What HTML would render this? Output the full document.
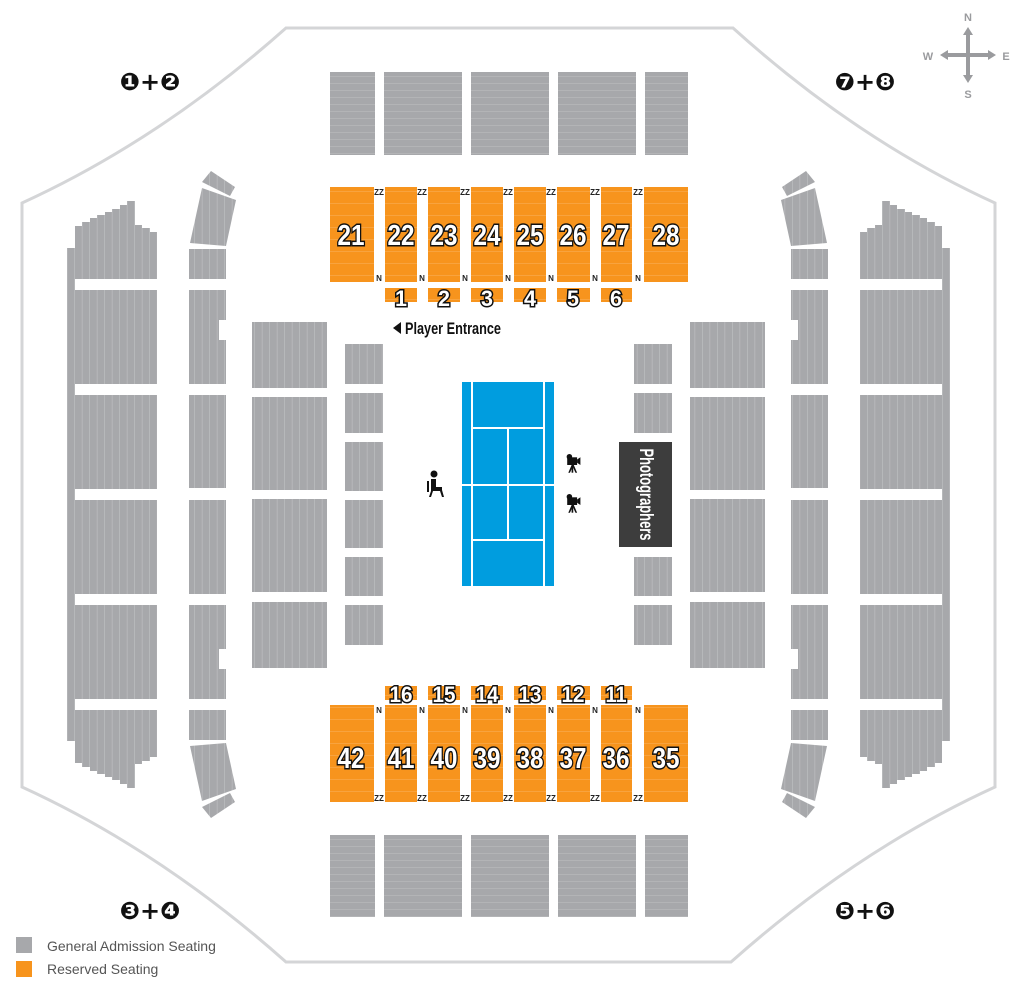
<!DOCTYPE html>
<html><head><meta charset="utf-8"><style>
html,body{margin:0;padding:0;background:#fff;}
svg{display:block;}
.num{font-family:"Liberation Sans",sans-serif;font-weight:bold;font-size:29px;fill:#fff;stroke:#111;stroke-width:3px;paint-order:stroke;text-anchor:middle;}
.s2{font-size:22px;}
.sm{font-family:"Liberation Sans",sans-serif;font-weight:bold;font-size:8px;fill:#222;text-anchor:middle;}
</style></head><body>
<svg width="1024" height="985" viewBox="0 0 1024 985" xmlns="http://www.w3.org/2000/svg">
<defs>
<pattern id="vs" patternUnits="userSpaceOnUse" width="7.5" height="10"><rect width="7.5" height="10" fill="#a7a8ab"/><rect x="6.8" width="0.8" height="10" fill="#bdbec0"/></pattern>
<pattern id="hs" patternUnits="userSpaceOnUse" width="10" height="7"><rect width="10" height="7" fill="#a7a8ab"/><rect y="6.3" width="10" height="0.7" fill="#b8b9bb"/></pattern>
<pattern id="os" patternUnits="userSpaceOnUse" width="10" height="12"><rect width="10" height="12" fill="#f7941d"/><rect y="11.2" width="10" height="0.8" fill="#f9a746"/></pattern>
<g id="side">
<polygon fill="url(#vs)" points="67,248 75,248 75,226 82,226 82,222 90,222 90,218 97,218 97,215 105,215 105,212 112,212 112,209 120,209 120,205 127,205 127,201 135,201 135,225 142,225 142,228 150,228 150,232 157,232 157,757 150,757 150,761 142,761 142,764 135,764 135,788 127,788 127,784 120,784 120,780 112,780 112,777 105,777 105,774 97,774 97,771 90,771 90,767 82,767 82,763 75,763 75,741 67,741"/>
<g fill="#fff"><rect x="75" y="279" width="83" height="11"/><rect x="75" y="384" width="83" height="11"/><rect x="75" y="489" width="83" height="11"/><rect x="75" y="594" width="83" height="11"/><rect x="75" y="699" width="83" height="11"/></g>
<g fill="url(#vs)">
<rect x="189" y="249" width="37" height="30"/>
<polygon points="189,290 226,290 226,320 219,320 219,340 226,340 226,384 189,384"/>
<rect x="189" y="395" width="37" height="93"/>
<rect x="189" y="500" width="37" height="94"/>
<polygon points="189,605 226,605 226,649 219,649 219,669 226,669 226,699 189,699"/>
<rect x="189" y="710" width="37" height="30"/>
<polygon points="190,243 202,188 236,200 226,246"/>
<polygon points="202,182 211,171 235,187 230,196"/>
<polygon points="190,746 202,801 236,789 226,743"/>
<polygon points="202,807 211,818 235,802 230,793"/>
<rect x="252" y="322" width="75" height="66"/><rect x="252" y="397" width="75" height="93"/><rect x="252" y="499" width="75" height="93"/><rect x="252" y="602" width="75" height="66"/>
</g>
</g>
</defs>
<path d="M22,203 L22,787 Q160,850 286,962 L731,962 Q857,850 995,787 L995,203 Q857,140 733,28 L286,28 Q160,140 22,203 Z" fill="none" stroke="#d4d5d7" stroke-width="3"/>
<use href="#side"/>
<use href="#side" transform="matrix(-1 0 0 1 1017 0)"/>
<g fill="url(#vs)">
<rect x="345" y="344" width="38" height="40"/><rect x="345" y="393" width="38" height="40"/><rect x="345" y="442" width="38" height="49"/><rect x="345" y="500" width="38" height="48"/><rect x="345" y="557" width="38" height="39"/><rect x="345" y="605" width="38" height="40"/>
<rect x="634" y="344" width="38" height="40"/><rect x="634" y="393" width="38" height="40"/><rect x="634" y="557" width="38" height="39"/><rect x="634" y="605" width="38" height="40"/>
</g>
<g fill="url(#hs)">
<rect x="330" y="72" width="45" height="83"/><rect x="384" y="72" width="78" height="83"/><rect x="471" y="72" width="78" height="83"/><rect x="558" y="72" width="78" height="83"/><rect x="645" y="72" width="43" height="83"/>
<rect x="330" y="835" width="45" height="82"/><rect x="384" y="835" width="78" height="82"/><rect x="471" y="835" width="78" height="82"/><rect x="558" y="835" width="78" height="82"/><rect x="645" y="835" width="43" height="82"/>
</g>
<rect x="619" y="442" width="53" height="105" fill="#3d3d3d"/>
<text transform="translate(640,494.5) rotate(90)" font-family="Liberation Sans,sans-serif" font-weight="bold" font-size="19" fill="#fff" text-anchor="middle" textLength="92" lengthAdjust="spacingAndGlyphs">Photographers</text>
<rect x="461" y="381" width="94" height="206" fill="#fff"/>
<g fill="#009ddf">
<rect x="462" y="382" width="9" height="102"/><rect x="462" y="486" width="9" height="100"/>
<rect x="545" y="382" width="9" height="102"/><rect x="545" y="486" width="9" height="100"/>
<rect x="473" y="382" width="70" height="45"/><rect x="473" y="429" width="34" height="55"/><rect x="509" y="429" width="34" height="55"/>
<rect x="473" y="486" width="34" height="53"/><rect x="509" y="486" width="34" height="53"/><rect x="473" y="541" width="70" height="45"/>
</g>
<g fill="#111">
<circle cx="434" cy="474" r="3.5"/><path d="M431,479h5v8h6v3l2,7h-2l-2-6h-7l-2,6h-2l2-6z"/><rect x="427" y="481" width="2" height="11"/>
<g transform="translate(565,454) scale(1.1)"><rect x="2" y="3" width="9" height="7"/><polygon points="11,5 14,3 14,10 11,8"/><circle cx="4" cy="2.5" r="2.5"/><rect x="6" y="10" width="1.5" height="7"/><path d="M6,10l-3,7h1.5l2.5-5.5 2.5,5.5h1.5l-3-7z"/></g>
<g transform="translate(565,494) scale(1.1)"><rect x="2" y="3" width="9" height="7"/><polygon points="11,5 14,3 14,10 11,8"/><circle cx="4" cy="2.5" r="2.5"/><rect x="6" y="10" width="1.5" height="7"/><path d="M6,10l-3,7h1.5l2.5-5.5 2.5,5.5h1.5l-3-7z"/></g>
</g>
<g fill="url(#os)">
<rect x="330" y="187" width="44" height="95"/><rect x="385" y="187" width="32" height="95"/><rect x="428" y="187" width="32" height="95"/><rect x="471" y="187" width="32" height="95"/><rect x="514" y="187" width="32" height="95"/><rect x="557" y="187" width="33" height="95"/><rect x="601" y="187" width="31" height="95"/><rect x="644" y="187" width="44" height="95"/>
<rect x="385" y="288" width="32" height="14"/><rect x="428" y="288" width="32" height="14"/><rect x="471" y="288" width="32" height="14"/><rect x="514" y="288" width="32" height="14"/><rect x="557" y="288" width="33" height="14"/><rect x="601" y="288" width="31" height="14"/>
<rect x="330" y="705" width="44" height="97"/><rect x="385" y="705" width="32" height="97"/><rect x="428" y="705" width="32" height="97"/><rect x="471" y="705" width="32" height="97"/><rect x="514" y="705" width="32" height="97"/><rect x="557" y="705" width="33" height="97"/><rect x="601" y="705" width="31" height="97"/><rect x="644" y="705" width="44" height="97"/>
<rect x="385" y="686" width="32" height="14"/><rect x="428" y="686" width="32" height="14"/><rect x="471" y="686" width="32" height="14"/><rect x="514" y="686" width="32" height="14"/><rect x="557" y="686" width="33" height="14"/><rect x="601" y="686" width="31" height="14"/>
</g>
<g class="num">
<text x="351" y="245" textLength="27" lengthAdjust="spacingAndGlyphs">21</text><text x="401" y="245" textLength="27" lengthAdjust="spacingAndGlyphs">22</text><text x="444" y="245" textLength="27" lengthAdjust="spacingAndGlyphs">23</text><text x="487" y="245" textLength="27" lengthAdjust="spacingAndGlyphs">24</text><text x="530" y="245" textLength="27" lengthAdjust="spacingAndGlyphs">25</text><text x="573" y="245" textLength="27" lengthAdjust="spacingAndGlyphs">26</text><text x="616" y="245" textLength="27" lengthAdjust="spacingAndGlyphs">27</text><text x="666" y="245" textLength="27" lengthAdjust="spacingAndGlyphs">28</text>
<text class="s2" x="401" y="306" textLength="12" lengthAdjust="spacingAndGlyphs">1</text><text class="s2" x="444" y="306" textLength="12" lengthAdjust="spacingAndGlyphs">2</text><text class="s2" x="487" y="306" textLength="12" lengthAdjust="spacingAndGlyphs">3</text><text class="s2" x="530" y="306" textLength="12" lengthAdjust="spacingAndGlyphs">4</text><text class="s2" x="573" y="306" textLength="12" lengthAdjust="spacingAndGlyphs">5</text><text class="s2" x="616" y="306" textLength="12" lengthAdjust="spacingAndGlyphs">6</text>
<text x="351" y="768" textLength="27" lengthAdjust="spacingAndGlyphs">42</text><text x="401" y="768" textLength="27" lengthAdjust="spacingAndGlyphs">41</text><text x="444" y="768" textLength="27" lengthAdjust="spacingAndGlyphs">40</text><text x="487" y="768" textLength="27" lengthAdjust="spacingAndGlyphs">39</text><text x="530" y="768" textLength="27" lengthAdjust="spacingAndGlyphs">38</text><text x="573" y="768" textLength="27" lengthAdjust="spacingAndGlyphs">37</text><text x="616" y="768" textLength="27" lengthAdjust="spacingAndGlyphs">36</text><text x="666" y="768" textLength="27" lengthAdjust="spacingAndGlyphs">35</text>
<text class="s2" x="401" y="702" textLength="23" lengthAdjust="spacingAndGlyphs">16</text><text class="s2" x="444" y="702" textLength="23" lengthAdjust="spacingAndGlyphs">15</text><text class="s2" x="487" y="702" textLength="23" lengthAdjust="spacingAndGlyphs">14</text><text class="s2" x="530" y="702" textLength="23" lengthAdjust="spacingAndGlyphs">13</text><text class="s2" x="573" y="702" textLength="23" lengthAdjust="spacingAndGlyphs">12</text><text class="s2" x="616" y="702" textLength="21" lengthAdjust="spacingAndGlyphs">11</text>
</g>
<g class="sm">
<text x="379" y="195">ZZ</text><text x="422" y="195">ZZ</text><text x="465" y="195">ZZ</text><text x="508" y="195">ZZ</text><text x="551" y="195">ZZ</text><text x="595" y="195">ZZ</text><text x="638" y="195">ZZ</text>
<text x="379" y="281">N</text><text x="422" y="281">N</text><text x="465" y="281">N</text><text x="508" y="281">N</text><text x="551" y="281">N</text><text x="595" y="281">N</text><text x="638" y="281">N</text>
<text x="379" y="713">N</text><text x="422" y="713">N</text><text x="465" y="713">N</text><text x="508" y="713">N</text><text x="551" y="713">N</text><text x="595" y="713">N</text><text x="638" y="713">N</text>
<text x="379" y="801">ZZ</text><text x="422" y="801">ZZ</text><text x="465" y="801">ZZ</text><text x="508" y="801">ZZ</text><text x="551" y="801">ZZ</text><text x="595" y="801">ZZ</text><text x="638" y="801">ZZ</text>
</g>
<polygon points="393,328 401,322 401,334" fill="#111"/>
<text x="405" y="334" font-family="Liberation Sans,sans-serif" font-weight="bold" font-size="17" fill="#111" textLength="96" lengthAdjust="spacingAndGlyphs">Player Entrance</text>
<g font-family="DejaVu Sans,sans-serif" font-weight="bold" font-size="24" fill="#111" text-anchor="middle">
<text x="150" y="90">❶+❷</text><text x="865" y="90">❼+❽</text>
<text x="150" y="919">❸+❹</text><text x="865" y="919">❺+❻</text>
</g>
<g fill="#9a9b9e">
<rect x="966" y="32" width="4" height="46"/><rect x="945" y="53" width="46" height="4"/>
<polygon points="968,27 963,35 973,35"/><polygon points="968,83 963,75 973,75"/><polygon points="940,55 948,50 948,60"/><polygon points="996,55 988,50 988,60"/>
<g font-family="Liberation Sans,sans-serif" font-weight="bold" font-size="11" text-anchor="middle"><text x="968" y="21">N</text><text x="968" y="98">S</text><text x="928" y="60">W</text><text x="1006" y="60">E</text></g>
</g>
<rect x="16" y="937" width="16" height="16" fill="#a7a8ab"/><rect x="16" y="961" width="16" height="16" fill="#f7941d"/>
<g font-family="Liberation Sans,sans-serif" font-size="14" fill="#555"><text x="47" y="951">General Admission Seating</text><text x="47" y="974">Reserved Seating</text></g>
</svg>
</body></html>
